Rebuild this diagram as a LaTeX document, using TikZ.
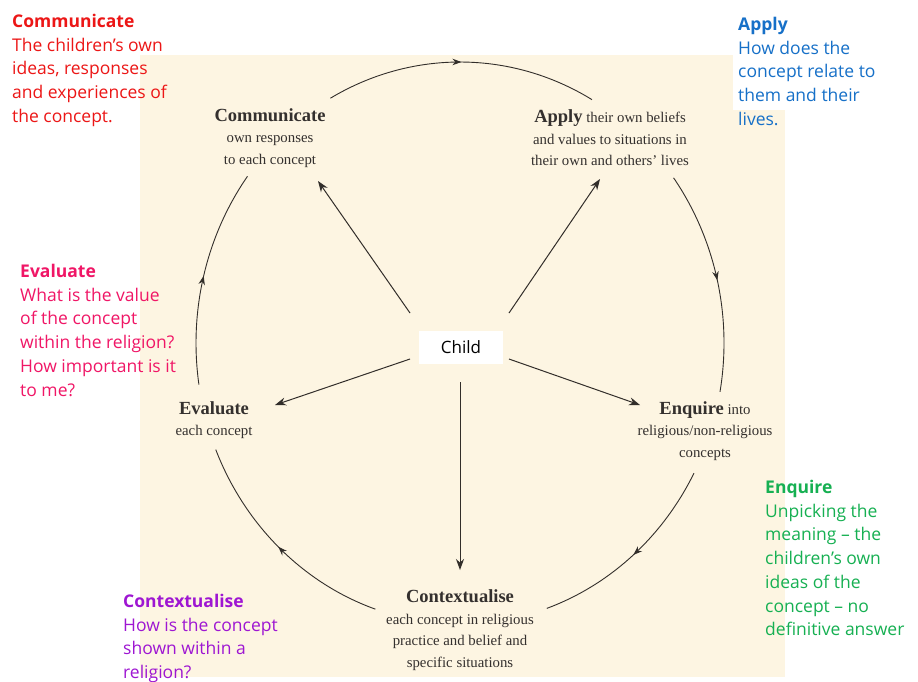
\documentclass[tikz,border=0pt]{standalone}
\usepackage{fontspec}
\setmainfont{Liberation Serif}
\newfontfamily\comic{Open Sans}
\usetikzlibrary{arrows.meta,decorations.markings,calc}
\definecolor{beige}{RGB}{253,245,226}
\definecolor{linec}{RGB}{50,46,42}
\definecolor{textc}{RGB}{52,48,46}
\definecolor{cred}{RGB}{236,22,22}
\definecolor{cblue}{RGB}{22,112,200}
\definecolor{cpink}{RGB}{240,22,102}
\definecolor{cgreen}{RGB}{22,176,82}
\definecolor{cpurple}{RGB}{158,22,210}
\newcommand{\hd}[1]{{\fontsize{18.5}{21.5}\selectfont\bfseries #1}}
\tikzset{
  cyc/.style={draw=linec, line width=0.9pt, postaction={decorate},
    decoration={markings, mark=at position 0.5 with {\arrow{Stealth[length=9pt,width=6.5pt]}}}},
  spoke/.style={draw=linec, line width=1pt, -{Stealth[length=11pt,width=8pt]}},
  stage/.style={align=center, text=textc, inner sep=0pt, font=\fontsize{14.8}{21.5}\selectfont},
  note/.style={align=left, anchor=north west, inner sep=0pt, font=\comic\fontsize{17.5}{23.7}\selectfont},
  childbox/.style={fill=white, minimum width=84pt, minimum height=33pt, inner sep=0pt, font=\comic\fontsize{17}{17}\selectfont}
}
\begin{document}
\begin{tikzpicture}[x=1pt,y=-1pt]
\useasboundingbox (0,0) rectangle (918,681);
\fill[white] (0,0) rectangle (918,681);
\fill[beige] (140,55) rectangle (785,677);
\fill[white] (733,50) rectangle (786,110);

% stage nodes
\node[stage] (comm) at (270,138) {\hd{Communicate}\\own responses\\to each concept};
\node[stage] (apply) at (610,138) {\hd{Apply} their own beliefs\\and values to situations in\\their own and others’ lives};
\node[stage] (eval) at (214,420) {\hd{Evaluate}\\each concept};
\node[stage] (enq) at (705,431) {\hd{Enquire} into\\religious/non-religious\\concepts};
\node[stage] (ctx) at (460,630) {\hd{Contextualise}\\each concept in religious\\practice and belief and\\specific situations};

\node[childbox] (child) at (461,347.5) {Child};

% cycle arcs
\coordinate (O) at (460,343);
\draw[cyc] ($(O)+(119.4:264pt and 281pt)$) coordinate (a1)
  arc[start angle=119.4, end angle=60, x radius=264pt, y radius=281pt];
\draw[cyc] ($(O)+(36:264pt and 281pt)$) coordinate (a2)
  arc[start angle=36, end angle=-10, x radius=264pt, y radius=281pt];
\draw[cyc] ($(O)+(-27.6:264pt and 281pt)$) coordinate (a3)
  arc[start angle=-27.6, end angle=-70.8, x radius=264pt, y radius=281pt];
\draw[cyc] ($(O)+(-108.7:264pt and 281pt)$) coordinate (a4)
  arc[start angle=-108.7, end angle=-157.7, x radius=264pt, y radius=281pt];
\draw[cyc] ($(O)+(-171.5:264pt and 281pt)$) coordinate (a5)
  arc[start angle=-171.5, end angle=-216.4, x radius=264pt, y radius=281pt];

% spokes
\coordinate (c1) at (410,313); \coordinate (t1) at (318,181);
\coordinate (c2) at (509,313); \coordinate (t2) at (600,179);
\coordinate (c3) at (410,359); \coordinate (t3) at (275,405);
\coordinate (c4) at (509,359); \coordinate (t4) at (640,405);
\coordinate (c5) at (460,382); \coordinate (t5) at (460,570);
\draw[spoke] (c1) -- (t1);
\draw[spoke] (c2) -- (t2);
\draw[spoke] (c3) -- (t3);
\draw[spoke] (c4) -- (t4);
\draw[spoke] (c5) -- (t5);

% annotations
\node[note, text=cred] (ncomm) at (12,14) {\textbf{Communicate}\\The children’s own\\ideas, responses\\and experiences of\\the concept.};
\node[note, text=cblue] (napply) at (738,17) {\textbf{Apply}\\How does the\\concept relate to\\them and their\\lives.};
\node[note, text=cpink] (neval) at (20,264) {\textbf{Evaluate}\\What is the value\\of the concept\\within the religion?\\How important is it\\to me?};
\node[note, text=cgreen] (nenq) at (765,480) {\textbf{Enquire}\\Unpicking the\\meaning – the\\children’s own\\ideas of the\\concept – no\\definitive answer};
\node[note, text=cpurple] (nctx) at (123,594) {\textbf{Contextualise}\\How is the concept\\shown within a\\religion?};
\end{tikzpicture}
\end{document}
